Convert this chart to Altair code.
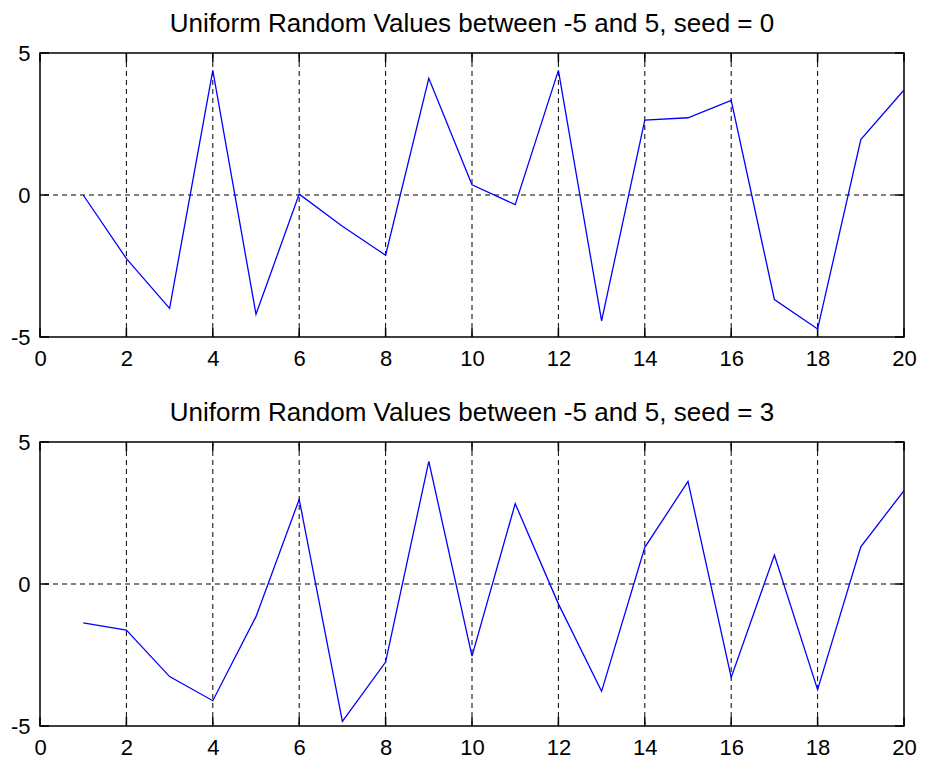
import altair as alt
import pandas as pd

x_vals = list(range(1, 21))
seed0 = [0.0, -2.24, -3.99, 4.39, -4.20, 0.03, -1.10, -2.12, 4.11, 0.36,
         -0.34, 4.39, -4.43, 2.64, 2.72, 3.33, -3.68, -4.72, 1.95, 3.70]
seed3 = [-1.37, -1.62, -3.26, -4.11, -1.15, 2.98, -4.84, -2.75, 4.32, -2.54,
         2.83, -0.70, -3.78, 1.29, 3.61, -3.29, 1.02, -3.72, 1.31, 3.29]
titles = ["Uniform Random Values between -5 and 5, seed = 0",
          "Uniform Random Values between -5 and 5, seed = 3"]
x_ticks = list(range(0, 21, 2))
y_ticks = [-5, 0, 5]

W, H = 864, 284
FONT = "Liberation Sans"
TICK = 9

xscale = alt.Scale(domain=[0, 20], nice=False, zero=False)
yscale = alt.Scale(domain=[-5, 5], nice=False, zero=False)

xt_df = pd.DataFrame({"t": x_ticks})
yt_df = pd.DataFrame({"t": y_ticks})

HYPHEN = "replace(datum.label, '\u2212', '-')"


def panel(values, title):
    df = pd.DataFrame({"x": x_vals, "y": values})
    base = alt.Chart(df)
    xgrid = alt.Chart(xt_df).mark_rule(strokeDash=[5, 4], color="black", strokeWidth=1).encode(
        x=alt.X("t:Q", scale=xscale,
                axis=alt.Axis(values=x_ticks, labelFontSize=22, labelFont=FONT, labelColor="black",
                              labelPadding=11, ticks=False, domain=False, grid=False,
                              labelFlush=False, labelOverlap=False, title=None, labelExpr=HYPHEN)),
    ).transform_filter("datum.t > 0 && datum.t < 20")
    ygrid = alt.Chart(yt_df).mark_rule(strokeDash=[5, 4], color="black", strokeWidth=1).encode(
        y=alt.Y("t:Q", scale=yscale,
                axis=alt.Axis(values=y_ticks, labelFontSize=22, labelFont=FONT, labelColor="black",
                              labelPadding=10, ticks=False, domain=False, grid=False,
                              labelFlush=False, labelOverlap=False, title=None, labelExpr=HYPHEN)),
    ).transform_filter("datum.t > -5 && datum.t < 5")
    bt = alt.Chart(xt_df).mark_rule(color="black", strokeWidth=1.5).encode(
        x=alt.X("t:Q", scale=xscale), y=alt.value(H), y2=alt.value(H - TICK))
    tt = alt.Chart(xt_df).mark_rule(color="black", strokeWidth=1.5).encode(
        x=alt.X("t:Q", scale=xscale), y=alt.value(0), y2=alt.value(TICK))
    lt = alt.Chart(yt_df).mark_rule(color="black", strokeWidth=1.5).encode(
        y=alt.Y("t:Q", scale=yscale), x=alt.value(0), x2=alt.value(TICK))
    rt = alt.Chart(yt_df).mark_rule(color="black", strokeWidth=1.5).encode(
        y=alt.Y("t:Q", scale=yscale), x=alt.value(W), x2=alt.value(W - TICK))
    line = base.mark_line(color="#0000FF", strokeWidth=1.3, clip=True).encode(
        x=alt.X("x:Q", scale=xscale), y=alt.Y("y:Q", scale=yscale))
    return alt.layer(xgrid, ygrid, bt, tt, lt, rt, line).properties(
        width=W, height=H,
        title=alt.TitleParams(title, fontSize=26, font=FONT, fontWeight="normal",
                              color="black", anchor="middle", offset=5),
    )


chart = alt.vconcat(panel(seed0, titles[0]), panel(seed3, titles[1]), spacing=29).properties(
    padding={"left": 1, "top": 2, "right": 0, "bottom": 0}
).configure_view(stroke="black", strokeWidth=1.5)

chart.save("out.html", embed_options={"renderer": "svg", "actions": False})
